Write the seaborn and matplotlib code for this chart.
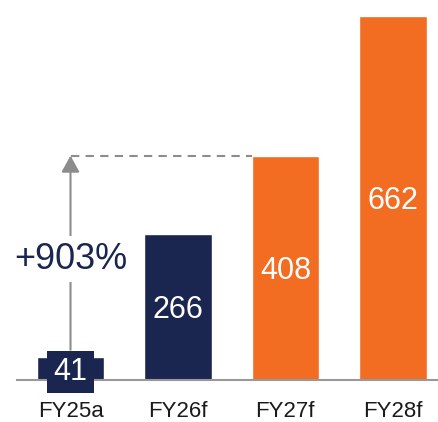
import matplotlib
matplotlib.use("Agg")
import matplotlib.pyplot as plt
import seaborn as sns

years = ["FY25a", "FY26f", "FY27f", "FY28f"]
values = [41, 266, 408, 662]
bar_colors = ["#1B2650", "#1B2650", "#F26C21", "#F26C21"]
growth_label = "+903%"

NAVY = "#1B2650"
GREY = "#8C8C8C"

sns.set_theme(style="white")
plt.rcParams["font.family"] = ["Liberation Sans", "DejaVu Sans"]

fig = plt.figure(figsize=(4.39, 4.22), dpi=100)
ax = fig.add_axes([17 / 439, 42 / 422, 422 / 439, 380 / 422])

sns.barplot(x=years, y=values, hue=years, palette=bar_colors, legend=False,
            width=0.63, saturation=1, ax=ax)

ax.set_xlim(-0.498, 3.43)
ax.set_ylim(0, 691)

for i, v in enumerate(values):
    if i == 0:
        ax.text(i, v / 2, str(v), ha="center", va="center_baseline", color="white",
                fontsize=22,
                bbox=dict(boxstyle="square,pad=0.2", facecolor=NAVY, edgecolor="none"))
    else:
        ax.text(i, v / 2, str(v), ha="center", va="center_baseline", color="white",
                fontsize=22)

# growth arrow from first bar up to FY27f level
ax.annotate("", xy=(0, values[2]), xytext=(0, 55),
            arrowprops=dict(arrowstyle="-|>,head_length=1.0,head_width=0.55",
                            color=GREY, lw=1.5, mutation_scale=10,
                            shrinkA=0, shrinkB=0))
ax.plot([0, 2 - 0.315], [values[2], values[2]], color=GREY, lw=1.5,
        linestyle=(0, (4, 3)))
ax.text(0, 227, growth_label, ha="center", va="center_baseline", color=NAVY,
        fontsize=26,
        bbox=dict(boxstyle="square,pad=0.15", facecolor="white", edgecolor="none"))

for side in ["top", "right", "left"]:
    ax.spines[side].set_visible(False)
ax.spines["bottom"].set_color("#999999")
ax.spines["bottom"].set_linewidth(1.5)
ax.set_yticks([])
ax.tick_params(axis="x", length=0, pad=15, labelsize=16, colors="#1a1a1a")
ax.set_xlabel("")
ax.set_ylabel("")

fig.savefig("out.png", dpi=100)
